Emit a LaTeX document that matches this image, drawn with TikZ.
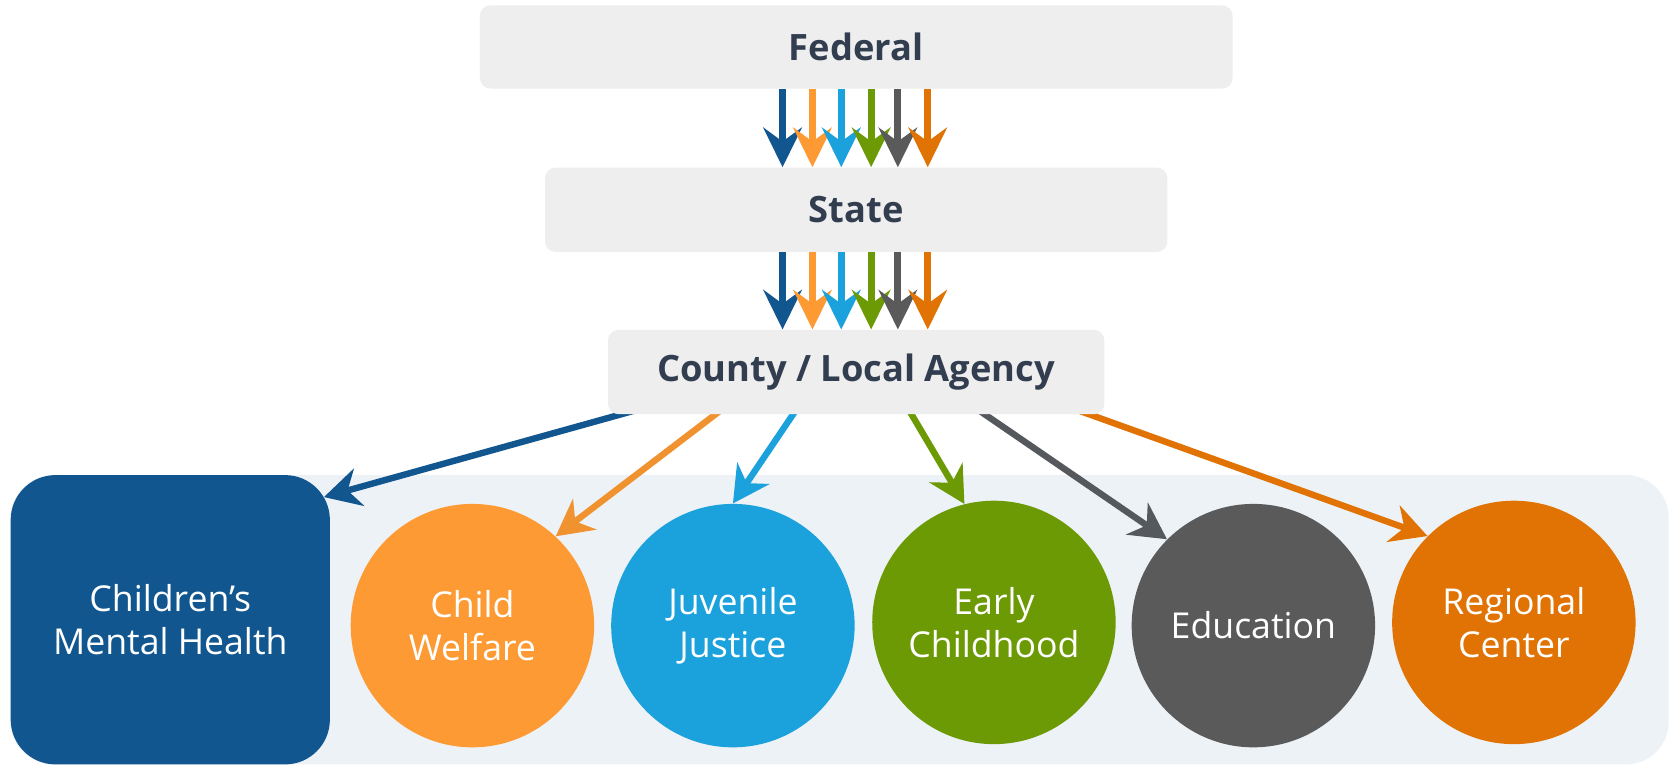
\documentclass[tikz,border=0pt]{standalone}
\usepackage{fontspec}
\setmainfont{Open Sans}
\usetikzlibrary{arrows.meta,calc}
\definecolor{cmhblue}{HTML}{11568F}
\definecolor{cworange}{HTML}{FD9A33}
\definecolor{jjblue}{HTML}{1BA1DC}
\definecolor{ecgreen}{HTML}{6C9A05}
\definecolor{edgray}{HTML}{5A5A5A}
\definecolor{edline}{HTML}{55595E}
\definecolor{rcorange}{HTML}{E07304}
\definecolor{boxgray}{HTML}{EEEEEE}
\definecolor{labelc}{HTML}{323E50}
\definecolor{panelc}{HTML}{EDF2F7}
\pgfdeclarelayer{back}
\pgfdeclarelayer{mid}
\pgfsetlayers{back,mid,main}
\begin{document}
\begin{tikzpicture}[x=0.5pt,y=-0.5pt,
  lvl/.style={rectangle, rounded corners=5pt, fill=boxgray, text=labelc,
    font=\fontsize{17pt}{20pt}\selectfont\bfseries, inner sep=0pt},
  circ/.style={circle, minimum size=114pt, inner sep=0pt, text=white,
    font=\fontsize{16.7pt}{20.3pt}\selectfont, align=center},
  vdown/.style={line width=3.3pt, -{Stealth[length=18.5pt,width=18pt,inset=6.5pt]}},
  diag/.style={line width=3pt, -{Stealth[length=17pt,width=18pt,inset=5.5pt]}}]
\useasboundingbox (0,0) rectangle (1568,718);

% levels
\node[lvl, minimum width=352.5pt, minimum height=39pt] (federal) at (802,44) {Federal};
\node[lvl, minimum width=291.5pt, minimum height=39.5pt] (state) at (802,196.5) {State};
\node[lvl, minimum width=232.5pt, minimum height=39.5pt] (county) at (802,348.5) {County / Local Agency};

% background panel
\begin{pgfonlayer}{back}
\fill[white] (0,0) rectangle (1568,718);
\node[rectangle, rounded corners=20pt, fill=panelc, minimum width=776.5pt,
  minimum height=135.5pt, inner sep=0pt] (panel) at (786.5,580.5) {};
\end{pgfonlayer}

% program nodes
\node[rectangle, rounded corners=21pt, fill=cmhblue, text=white, minimum width=149.5pt,
  minimum height=135.5pt, inner sep=0pt, align=center,
  font=\fontsize{16.7pt}{20.3pt}\selectfont] (cmh) at (159.5,580.5) {Children’s\\Mental Health};
\node[circ, fill=cworange] (cw) at (442.5,586) {Child\\Welfare};
\node[circ, fill=jjblue] (jj) at (686.5,586) {Juvenile\\Justice};
\node[circ, fill=ecgreen] (ec) at (931,583) {Early\\Childhood};
\node[circ, fill=edgray] (ed) at (1174,586) {Education};
\node[circ, fill=rcorange] (rc) at (1418,583) {Regional\\Center};

\begin{pgfonlayer}{mid}
% vertical arrows
\foreach \dx/\c in {-69/cmhblue,-41/cworange,-14/jjblue,14/ecgreen,39/edgray,67/rcorange}{
  \draw[vdown, \c] ($(federal.south)+(\dx,0)$) -- ($(state.north)+(\dx,0)$);
  \draw[vdown, \c] ($(state.south)+(\dx,0)$) -- ($(county.north)+(\dx,0)$);
}
% diagonal arrows
\coordinate (s1) at ($(county.south)+(-207,-4)$);
\coordinate (s2) at ($(county.south)+(-127,-4)$);
\coordinate (s3) at ($(county.south)+(-56,-5)$);
\coordinate (s4) at ($(county.south)+(49,-5)$);
\coordinate (s5) at ($(county.south)+(115,-4)$);
\coordinate (s6) at ($(county.south)+(208,-4)$);
\draw[diag, cmhblue] (s1) -- ($(cmh.north east)+(-6,21)$);
\draw[diag, cworange!95!black] (s2) -- (cw.47);
\draw[diag, jjblue] (s3) -- (jj.north);
\draw[diag, ecgreen] (s4) -- (ec.104);
\draw[diag, edline] (s5) -- (ed.135);
\draw[diag, rcorange] (s6) -- (rc.135);
\end{pgfonlayer}
\end{tikzpicture}
\end{document}
